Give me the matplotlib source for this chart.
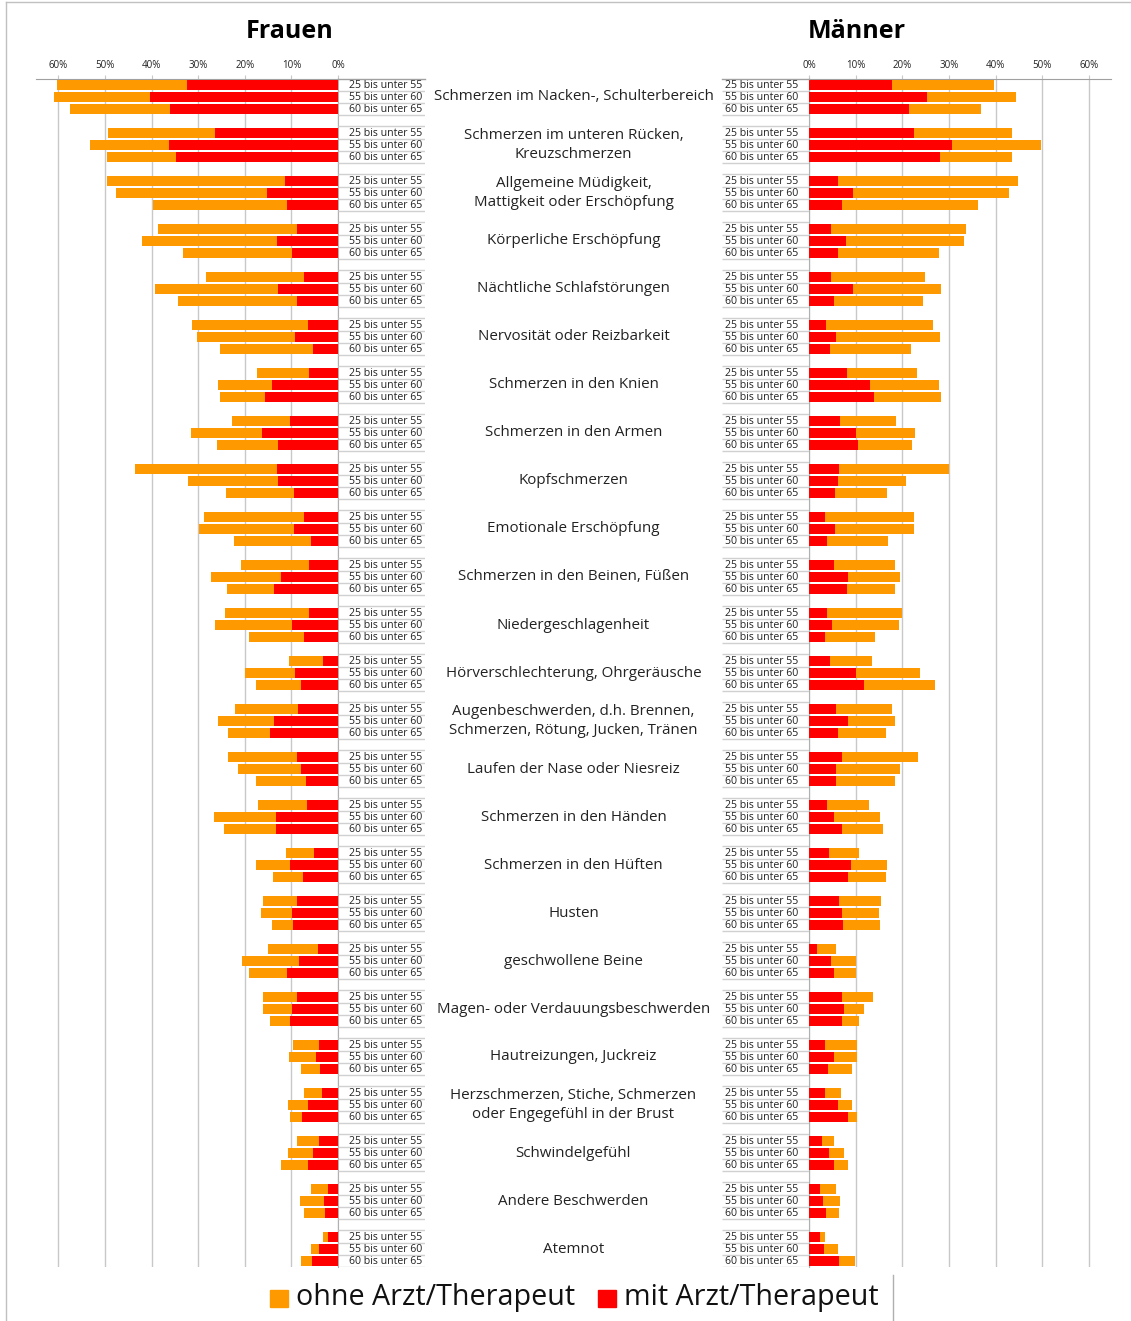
import numpy as np
import matplotlib
matplotlib.use("Agg")
import matplotlib.pyplot as plt
from matplotlib.lines import Line2D
from matplotlib.patches import Rectangle

plt.rcParams['font.family'] = ['Open Sans', 'DejaVu Sans']

categories = [
    "Schmerzen im Nacken-, Schulterbereich",
    "Schmerzen im unteren Rücken,\nKreuzschmerzen",
    "Allgemeine Müdigkeit,\nMattigkeit oder Erschöpfung",
    "Körperliche Erschöpfung",
    "Nächtliche Schlafstörungen",
    "Nervosität oder Reizbarkeit",
    "Schmerzen in den Knien",
    "Schmerzen in den Armen",
    "Kopfschmerzen",
    "Emotionale Erschöpfung",
    "Schmerzen in den Beinen, Füßen",
    "Niedergeschlagenheit",
    "Hörverschlechterung, Ohrgeräusche",
    "Augenbeschwerden, d.h. Brennen,\nSchmerzen, Rötung, Jucken, Tränen",
    "Laufen der Nase oder Niesreiz",
    "Schmerzen in den Händen",
    "Schmerzen in den Hüften",
    "Husten",
    "geschwollene Beine",
    "Magen- oder Verdauungsbeschwerden",
    "Hautreizungen, Juckreiz",
    "Herzschmerzen, Stiche, Schmerzen\noder Engegefühl in der Brust",
    "Schwindelgefühl",
    "Andere Beschwerden",
    "Atemnot",
]
age_groups = ["25 bis unter 55", "55 bis unter 60", "60 bis unter 65"]

# Frauen, % mit Arzt/Therapeut (per category: 25-55, 55-60, 60-65)
frauen_mit = [
    [32.3, 40.3, 36.0], [26.3, 36.3, 34.7], [11.3, 15.3, 11.0], [8.7, 13.0, 9.9],
    [7.4, 12.9, 8.8], [6.5, 9.2, 5.4], [6.2, 14.2, 15.7], [10.2, 16.3, 12.9],
    [13.1, 12.8, 9.4], [7.2, 9.4, 5.8], [6.2, 12.2, 13.7], [6.2, 9.9, 7.2],
    [3.3, 9.3, 8.0], [8.6, 13.7, 14.5], [8.9, 7.9, 6.9], [6.7, 13.3, 13.3],
    [5.2, 10.2, 7.6], [8.7, 9.9, 9.6], [4.3, 8.4, 11.0], [8.8, 9.8, 10.2],
    [4.1, 4.8, 3.9], [3.5, 6.4, 7.7], [4.1, 5.4, 6.4], [2.2, 2.9, 2.8],
    [2.1, 4.1, 5.6],
]
# Frauen, % ohne Arzt/Therapeut
frauen_ohne = [
    [28.1, 20.6, 21.4], [23.1, 16.9, 14.9], [38.3, 32.4, 28.6], [29.9, 29.0, 23.4],
    [20.9, 26.4, 25.5], [24.8, 21.1, 19.9], [11.1, 11.5, 9.7], [12.6, 15.3, 13.1],
    [30.4, 19.4, 14.6], [21.6, 20.4, 16.5], [14.6, 15.0, 10.1], [18.0, 16.4, 12.0],
    [7.2, 10.7, 9.6], [13.4, 12.0, 9.1], [14.8, 13.6, 10.6], [10.5, 13.2, 11.1],
    [5.9, 7.4, 6.3], [7.4, 6.6, 4.6], [10.7, 12.3, 8.2], [7.4, 6.2, 4.4],
    [5.6, 5.7, 4.0], [3.7, 4.3, 2.6], [4.7, 5.3, 5.8], [3.5, 5.3, 4.5],
    [1.2, 1.8, 2.3],
]
# Männer, % mit Arzt/Therapeut
maenner_mit = [
    [17.7, 25.2, 21.4], [22.4, 30.6, 28.1], [6.2, 9.4, 7.0], [4.6, 7.9, 6.2],
    [4.6, 9.3, 5.3], [3.6, 5.7, 4.5], [8.0, 13.0, 14.0], [6.6, 10.0, 10.5],
    [6.3, 6.1, 5.5], [3.4, 5.5, 3.8], [5.2, 8.3, 8.1], [3.7, 4.8, 3.4],
    [4.5, 10.0, 11.7], [5.7, 8.3, 6.1], [7.0, 5.7, 5.7], [3.7, 5.3, 7.0],
    [4.3, 8.9, 8.3], [6.3, 7.0, 7.2], [1.6, 4.7, 5.3], [7.0, 7.4, 7.0],
    [3.4, 5.2, 4.0], [3.4, 6.2, 8.3], [2.8, 4.3, 5.2], [2.3, 2.9, 3.6],
    [2.3, 3.1, 6.3],
]
# Männer, % ohne Arzt/Therapeut
maenner_ohne = [
    [22.0, 19.2, 15.5], [21.2, 19.2, 15.4], [38.7, 33.4, 29.3], [29.1, 25.3, 21.6],
    [20.3, 19.0, 19.1], [22.9, 22.3, 17.3], [15.2, 14.8, 14.3], [12.0, 12.6, 11.5],
    [23.7, 14.7, 11.2], [19.0, 17.0, 13.2], [13.1, 11.1, 10.2], [16.3, 14.5, 10.7],
    [9.0, 13.8, 15.4], [12.1, 10.1, 10.3], [16.3, 13.8, 12.6], [9.2, 9.9, 8.8],
    [6.4, 7.7, 8.1], [9.1, 7.9, 8.0], [4.1, 5.3, 4.7], [6.6, 4.3, 3.7],
    [6.8, 5.1, 5.2], [3.4, 3.0, 1.9], [2.5, 3.1, 3.1], [3.4, 3.6, 2.8],
    [1.1, 3.1, 3.5],
]

ORANGE = "#FF9900"
RED = "#FF0000"
GRID = "#c8c8c8"

W, H = 1131, 1321
fig = plt.figure(figsize=(W / 100, H / 100), dpi=100)


def rect(x0, y0, x1, y1):
    return [x0 / W, 1 - y1 / H, (x1 - x0) / W, (y1 - y0) / H]


def fx(x):
    return x / W


def fy(y):
    return 1 - y / H


TOP, BOT = 79, 1267
n = len(categories)
pos = np.array([[4 * g + k for k in range(3)] for g in range(n)]).ravel()
ylim = (4 * n - 1.5, -0.5)

fm = np.array(frauen_mit).ravel()
fo = np.array(frauen_ohne).ravel()
mm = np.array(maenner_mit).ravel()
mo = np.array(maenner_ohne).ravel()

axL = fig.add_axes(rect(36, TOP, 338, BOT))
axR = fig.add_axes(rect(809.3, TOP, 1111, BOT))
for ax, mit, ohne in [(axL, fm, fo), (axR, mm, mo)]:
    ax.barh(pos, mit, height=0.78, color=RED, zorder=3)
    ax.barh(pos, ohne, left=mit, height=0.78, color=ORANGE, zorder=3)
    ax.set_ylim(*ylim)
    ax.set_xlim(0, 64.8)
    ax.set_xticks(np.arange(0, 61, 10))
    ax.set_xticklabels([f"{v}%" for v in range(0, 61, 10)])
    ax.xaxis.tick_top()
    ax.tick_params(axis='x', labelsize=7, length=3, color=GRID, pad=3,
                   labelcolor="#222222")
    ax.set_yticks([])
    ax.grid(axis='x', color=GRID, lw=1, zorder=0)
    for s in ax.spines.values():
        s.set_visible(False)
    ax.spines['top'].set_visible(True)
    ax.spines['top'].set_color("#a0a0a0")
axL.invert_xaxis()
axL.spines['right'].set_visible(True)
axL.spines['right'].set_color("#b0b0b0")
axR.spines['left'].set_visible(True)
axR.spines['left'].set_color("#b0b0b0")

# age group label columns
for x0, x1, xt in [(338, 425, 349), (722, 809.3, 725)]:
    lab = fig.add_axes(rect(x0, TOP, x1, BOT))
    lab.set_ylim(*ylim)
    lab.set_xlim(0, 1)
    lab.axis('off')
    tx = (xt - x0) / (x1 - x0)
    for g in range(n):
        lab.hlines(4 * g - 0.6, 0, 1, color="#d0d0d0", lw=1)
        for k, a in enumerate(age_groups):
            if x0 > 600 and g == 9 and k == 2:
                a = "50 bis unter 65"
            p = 4 * g + k
            lab.text(tx, p + 0.05, a, fontsize=7.6, va='center', ha='left',
                     color="#222222")
            lab.hlines(p + 0.5, 0, 1, color="#d0d0d0", lw=1)
    lab.plot([0, 1], [-0.5, -0.5], color="#a0a0a0", lw=1, clip_on=False)

# category names in the middle
axC = fig.add_axes(rect(425, TOP, 722, BOT))
axC.set_ylim(*ylim)
axC.set_xlim(0, 1)
axC.axis('off')
for g, c in enumerate(categories):
    axC.text(0.5, 4 * g + 1, c, fontsize=10.9, ha='center', va='center',
             color="#222222", linespacing=1.45)

fig.text(fx(290), fy(31), "Frauen", fontsize=18, fontweight='bold',
         ha='center', va='center')
fig.text(fx(857), fy(31), "Männer", fontsize=18, fontweight='bold',
         ha='center', va='center')

# legend
fig.patches.append(Rectangle((fx(270), fy(1307)), 18 / W, 17 / H,
                             transform=fig.transFigure, color=ORANGE))
fig.text(fx(296), fy(1298), "ohne Arzt/Therapeut", fontsize=20.6,
         ha='left', va='center', color="#111111")
fig.patches.append(Rectangle((fx(598), fy(1307)), 18 / W, 17 / H,
                             transform=fig.transFigure, color=RED))
fig.text(fx(624), fy(1298), "mit Arzt/Therapeut", fontsize=20.6,
         ha='left', va='center', color="#111111")
fig.lines.append(Line2D([fx(893), fx(893)], [fy(1275), fy(1321)],
                        transform=fig.transFigure, color="#b0b0b0", lw=1))

# outer frame
fig.lines.append(Line2D([fx(6), fx(6)], [0, fy(2)], transform=fig.transFigure,
                        color="#c0c0c0", lw=1))
fig.lines.append(Line2D([fx(6), 1], [fy(2), fy(2)], transform=fig.transFigure,
                        color="#c0c0c0", lw=1))

fig.savefig("out.png", dpi=100)
